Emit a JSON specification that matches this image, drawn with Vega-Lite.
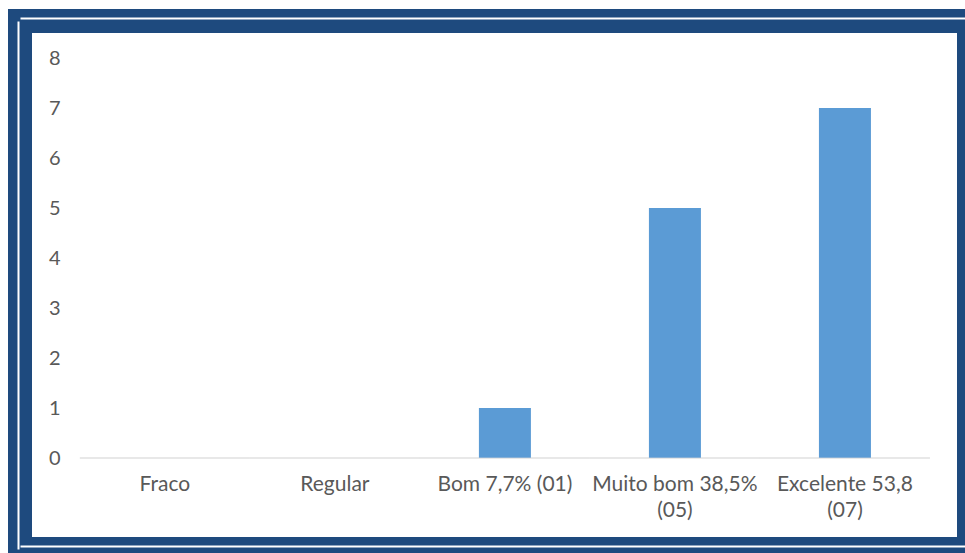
{
  "$schema": "https://vega.github.io/schema/vega-lite/v6.json",
  "width": 949,
  "height": 528,
  "autosize": {"type": "none"},
  "padding": {"left": 20, "top": 21, "right": -4, "bottom": 4},
  "background": "#FFFFFF",
  "config": {
    "view": {"stroke": "#1E4A7E", "strokeWidth": 24, "fill": "#FFFFFF"},
    "font": "Lato"
  },
  "data": {
    "values": [
      {"categoria": "Fraco", "valor": 0},
      {"categoria": "Regular", "valor": 0},
      {"categoria": "Bom 7,7% (01)", "valor": 1},
      {"categoria": "Muito bom 38,5% (05)", "valor": 5},
      {"categoria": "Excelente 53,8 (07)", "valor": 7}
    ]
  },
  "resolve": {"axis": {"x": "independent", "y": "independent"}},
  "layer": [
    {
      "mark": {"type": "tick", "size": 170, "thickness": 1, "color": "#D9D9D9"},
      "encoding": {
        "x": {
          "field": "categoria",
          "type": "nominal",
          "sort": null,
          "scale": {"paddingInner": 0.6941, "paddingOuter": 0.638, "align": 0.548, "round": false},
          "axis": {
            "title": null,
            "orient": "bottom",
            "offset": -91,
            "domain": false,
            "ticks": false,
            "grid": false,
            "labelAngle": 0,
            "labelPadding": 15,
            "labelBaseline": "top",
            "labelLineHeight": 26,
            "labelFontSize": 21,
            "labelColor": "#595959",
            "labelFont": "Lato",
            "labelLimit": 400,
            "labelOverlap": false,
            "labelExpr": "length(datum.label) > 15 ? [substring(datum.label, 0, lastindexof(datum.label, ' ')), substring(datum.label, lastindexof(datum.label, ' ') + 1)] : datum.label"
          }
        },
        "y": {
          "datum": 0,
          "type": "quantitative",
          "scale": {"domain": [-1.82, 8.74], "nice": false, "zero": false},
          "axis": {
            "title": null,
            "orient": "left",
            "values": [0, 1, 2, 3, 4, 5, 6, 7, 8],
            "offset": -42,
            "labelPadding": 2,
            "domain": false,
            "ticks": false,
            "grid": false,
            "labelFontSize": 20,
            "labelColor": "#595959",
            "labelFont": "Lato"
          }
        }
      }
    },
    {
      "mark": {"type": "bar", "color": "#5B9BD5"},
      "encoding": {
        "x": {
          "field": "categoria",
          "type": "nominal",
          "sort": null,
          "axis": {
            "title": null,
            "orient": "top",
            "offset": 3,
            "labels": false,
            "ticks": false,
            "grid": false,
            "domain": true,
            "domainColor": "#FFFFFF",
            "domainWidth": 2
          }
        },
        "y": {
          "field": "valor",
          "type": "quantitative",
          "axis": {
            "title": null,
            "orient": "left",
            "offset": 2,
            "labels": false,
            "ticks": false,
            "grid": false,
            "domain": true,
            "domainColor": "#FFFFFF",
            "domainWidth": 2
          }
        },
        "y2": {"datum": 0}
      }
    },
    {
      "mark": {"type": "tick", "size": 170, "thickness": 1, "color": "#D9D9D9"},
      "encoding": {
        "x": {
          "field": "categoria",
          "type": "nominal",
          "sort": null,
          "axis": {
            "title": null,
            "orient": "bottom",
            "offset": -3,
            "labels": false,
            "ticks": false,
            "grid": false,
            "domain": true,
            "domainColor": "#FFFFFF",
            "domainWidth": 2
          }
        },
        "y": {"datum": 0, "type": "quantitative", "axis": null}
      }
    }
  ]
}
